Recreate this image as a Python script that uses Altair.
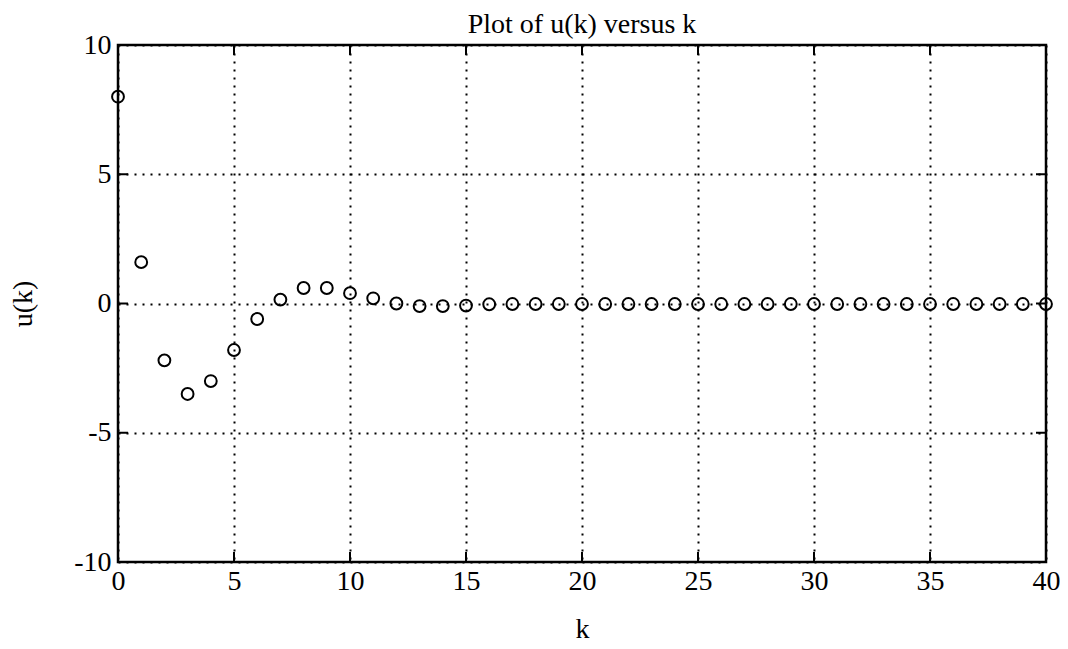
import altair as alt
import pandas as pd

# data
k_values = list(range(0, 41))
u_values = [8.0, 1.6, -2.2, -3.5, -3.0, -1.8, -0.6, 0.15, 0.6, 0.6,
            0.4, 0.2, 0.0, -0.1, -0.1, -0.08, -0.03, -0.02, -0.02, -0.02,
            -0.02, -0.02, -0.02, -0.02, -0.02, -0.02, -0.02, -0.02, -0.02, -0.02,
            -0.02, -0.02, -0.02, -0.02, -0.02, -0.02, -0.02, -0.02, -0.02, -0.02,
            -0.02]
x_ticks = [0, 5, 10, 15, 20, 25, 30, 35, 40]
y_ticks = [-10, -5, 0, 5, 10]
title_text = "Plot of u(k) versus k"

W, H = 928, 517
FONT = "Liberation Serif"

df = pd.DataFrame({"k": k_values, "u": u_values})
dfx = pd.DataFrame({"k": x_ticks})
dfy = pd.DataFrame({"u": y_ticks})

x_enc = alt.X("k:Q", scale=alt.Scale(domain=[0, 40], nice=False, zero=False),
              axis=alt.Axis(values=x_ticks, title="k", titleY=75,
                            titleBaseline="alphabetic", labelPadding=5,
                            labelFlush=False, labelExpr="'' + datum.value"))
y_enc = alt.Y("u:Q", scale=alt.Scale(domain=[-10, 10], nice=False, zero=False),
              axis=alt.Axis(values=y_ticks, title="u(k)", titleX=-87,
                            titleBaseline="alphabetic", labelPadding=7,
                            labelFlush=False, labelExpr="'' + datum.value"))

points = alt.Chart(df).mark_point(shape="circle", filled=False, color="black",
                                  size=140, strokeWidth=2, opacity=1).encode(
    x=x_enc, y=y_enc)

TL = 10
left_ticks = alt.Chart(dfy).mark_rule(color="black", strokeWidth=2).encode(
    y=y_enc, x=alt.value(0), x2=alt.value(TL))
right_ticks = alt.Chart(dfy).mark_rule(color="black", strokeWidth=2).encode(
    y=y_enc, x=alt.value(W - TL), x2=alt.value(W))
bottom_ticks = alt.Chart(dfx).mark_rule(color="black", strokeWidth=2).encode(
    x=x_enc, y=alt.value(H - TL), y2=alt.value(H))
top_ticks = alt.Chart(dfx).mark_rule(color="black", strokeWidth=2).encode(
    x=x_enc, y=alt.value(0), y2=alt.value(TL))

title = alt.Chart(pd.DataFrame({"t": [title_text]})).mark_text(
    font=FONT, fontSize=28, color="black", align="center", baseline="alphabetic"
).encode(text="t:N", x=alt.value(W / 2), y=alt.value(-12))

chart = alt.layer(left_ticks, right_ticks, bottom_ticks, top_ticks, points, title).properties(
    width=W, height=H,
    background="white",
    autosize=alt.AutoSizeParams(type="none"),
    padding={"left": 110, "top": 37, "right": 14, "bottom": 86},
).configure_view(
    stroke="black", strokeWidth=2.5
).configure_axis(
    domain=False, ticks=False, grid=True, gridColor="black", gridDash=[2, 6],
    gridWidth=2, gridOpacity=1,
    labelFont=FONT, labelFontSize=28, labelColor="black",
    titleFont=FONT, titleFontSize=28, titleFontWeight="normal", titleColor="black"
)

chart.save("out.html", embed_options={"renderer": "svg", "actions": False})
